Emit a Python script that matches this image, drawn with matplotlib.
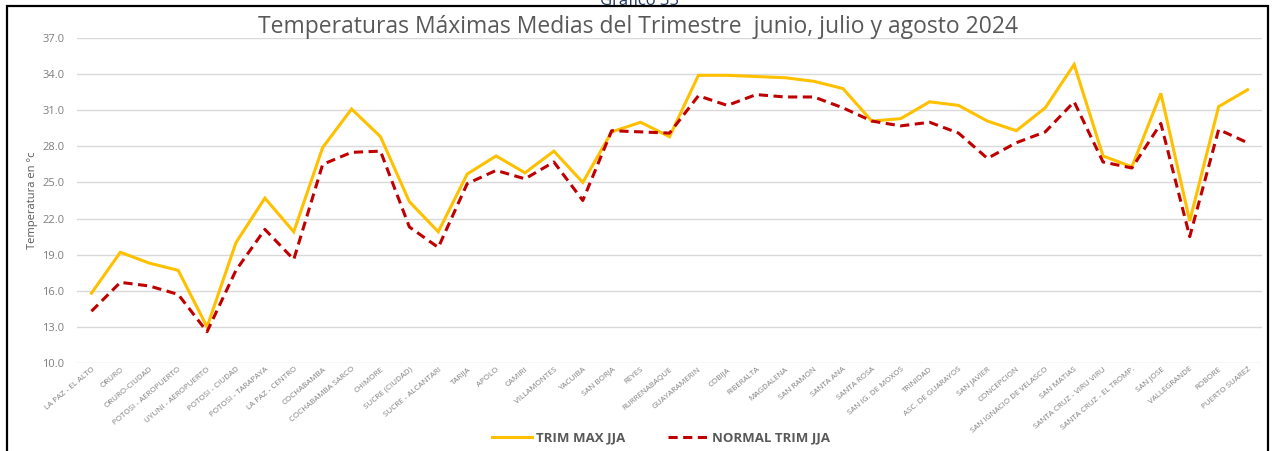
import matplotlib
matplotlib.use("Agg")
import matplotlib.pyplot as plt
from matplotlib.patches import Rectangle
from matplotlib.lines import Line2D

stations = [
    "LA PAZ - EL ALTO", "ORURO", "ORURO-CIUDAD", "POTOSI - AEROPUERTO",
    "UYUNI - AEROPUERTO", "POTOSI - CIUDAD", "POTOSI - TARAPAYA", "LA PAZ - CENTRO",
    "COCHABAMBA", "COCHABAMBA SARCO", "CHIMORE", "SUCRE (CIUDAD)",
    "SUCRE - ALCANTARI", "TARIJA", "APOLO", "CAMIRI", "VILLAMONTES", "YACUIBA",
    "SAN BORJA", "REYES", "RURRENABAQUE", "GUAYARAMERIN", "COBIJA", "RIBERALTA",
    "MAGDALENA", "SAN RAMON", "SANTA ANA", "SANTA ROSA", "SAN IG. DE MOXOS",
    "TRINIDAD", "ASC. DE GUARAYOS", "SAN JAVIER", "CONCEPCION",
    "SAN IGNACIO DE VELASCO", "SAN MATIAS", "SANTA CRUZ - VIRU VIRU",
    "SANTA CRUZ - EL TROMP.", "SAN JOSE", "VALLEGRANDE", "ROBORE", "PUERTO SUAREZ",
]

trim_max_jja = [
    15.8, 19.2, 18.3, 17.7, 13.0, 20.0, 23.7, 20.9, 27.9, 31.1,
    28.8, 23.4, 20.9, 25.7, 27.2, 25.8, 27.6, 25.0, 29.2, 30.0,
    28.8, 33.9, 33.9, 33.8, 33.7, 33.4, 32.8, 30.1, 30.3, 31.7,
    31.4, 30.1, 29.3, 31.2, 34.8, 27.2, 26.3, 32.4, 21.8, 31.3,
    32.7,
]

normal_trim_jja = [
    14.3, 16.7, 16.4, 15.7, 12.6, 17.7, 21.1, 18.6, 26.5, 27.5,
    27.6, 21.3, 19.6, 24.9, 26.0, 25.3, 26.7, 23.5, 29.3, 29.2,
    29.1, 32.2, 31.4, 32.3, 32.1, 32.1, 31.2, 30.1, 29.7, 30.0,
    29.1, 27.0, 28.3, 29.2, 31.7, 26.7, 26.2, 29.9, 20.5, 29.4,
    28.3,
]

y_ticks = [10.0, 13.0, 16.0, 19.0, 22.0, 25.0, 28.0, 31.0, 34.0, 37.0]

FONT = ["Open Sans", "DejaVu Sans"]
plt.rcParams["font.family"] = FONT

W, H = 1275, 451
fig = plt.figure(figsize=(W / 100, H / 100), dpi=100)
fig.patch.set_facecolor("white")

ax = fig.add_axes([77 / W, 1 - 363 / H, (1262 - 77) / W, (363 - 38) / H])
x = list(range(len(stations)))

ax.plot(x, trim_max_jja, color="#FFC000", lw=2.2, solid_joinstyle="miter",
        label="TRIM MAX JJA", zorder=3)
ax.plot(x, normal_trim_jja, color="#C00000", lw=2.2, ls=(0, (3, 1.8)),
        label="NORMAL TRIM JJA", zorder=4)

ax.set_xlim(-0.5, len(stations) - 0.5)
ax.set_ylim(10, 37)
ax.set_yticks(y_ticks)
ax.set_yticklabels([f"{v:.1f}" for v in y_ticks], fontsize=8, color="#7F7F7F")
ax.yaxis.grid(True, color="#D9D9D9", lw=1.0)
ax.set_axisbelow(True)
for s in ax.spines.values():
    s.set_visible(False)
ax.tick_params(axis="y", length=0, pad=9)
ax.tick_params(axis="x", length=0, pad=2)

ax.set_xticks(x)
ax.set_xticklabels(stations, rotation=40, ha="right", rotation_mode="anchor",
                   fontsize=5.8, color="#7F7F7F")

ax.set_ylabel("Temperatura en °c", fontsize=8, color="#595959", labelpad=3)

fig.text(638 / W, 1 - 27 / H,
         "Temperaturas Máximas Medias del Trimestre  junio, julio y agosto 2024",
         ha="center", va="center", fontsize=16.5, color="#595959")

# caption partly hidden above the frame
fig.text(640 / W, 1 - 1 / H, "Gráfico 35", ha="center", va="center",
         fontsize=12, color="#1F3864")

handles = [
    Line2D([], [], color="#FFC000", lw=2.2),
    Line2D([], [], color="#C00000", lw=2.2, ls=(0, (3, 1.8))),
]
fig.legend(handles, ["TRIM MAX JJA", "NORMAL TRIM JJA"], loc="center",
           bbox_to_anchor=(661 / W, 1 - 438 / H), ncol=2, frameon=False,
           handlelength=3.0, handletextpad=0.3, columnspacing=3.3,
           prop={"size": 9.5, "weight": "bold"}, labelcolor="#595959")

fig.patches.append(Rectangle((7 / W, -0.05), (1268 - 7) / W, 1.05 - 6 / H,
                             transform=fig.transFigure, fill=False,
                             edgecolor="black", lw=1.6, zorder=10))

fig.savefig("out.png", dpi=100, facecolor="white")
